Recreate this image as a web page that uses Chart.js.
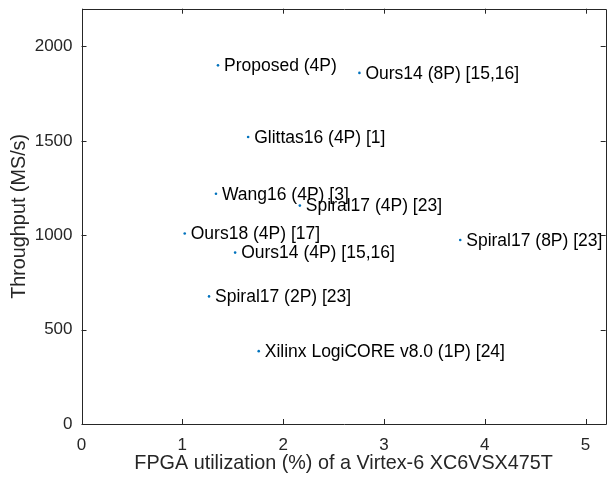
<!DOCTYPE html>
<html>
<head>
<meta charset="utf-8">
<script src="https://cdn.jsdelivr.net/npm/chart.js@4/dist/chart.umd.min.js"></script>
<style>
html,body{margin:0;padding:0;background:#fff;}
#wrap{width:607px;height:482px;position:relative;}
</style>
</head>
<body>
<div id="wrap"><canvas id="c" width="607" height="482"></canvas></div>
<script>
const designs = ["Proposed (4P)","Ours14 (8P) [15,16]","Glittas16 (4P) [1]","Wang16 (4P) [3]","Spiral17 (4P) [23]","Ours18 (4P) [17]","Ours14 (4P) [15,16]","Spiral17 (2P) [23]","Xilinx LogiCORE v8.0 (1P) [24]","Spiral17 (8P) [23]"];
const fpgaUtil = [1.354, 2.757, 1.653, 1.334, 2.166, 1.024, 1.524, 1.265, 1.758, 3.757];
const throughput = [1900, 1860, 1520, 1220, 1157, 1009, 908, 676, 386, 975];
const xTicks = [0,1,2,3,4,5];
const yTicks = [0,500,1000,1500,2000];
const xTitle = "FPGA utilization (%) of a Virtex-6 XC6VSX475T";
const yTitle = "Throughput (MS/s)";

const FONT = "'Liberation Sans', Arial, Helvetica, sans-serif";
const AX = '#262626';

const labelPlugin = {
  id:'pointLabels',
  afterDatasetsDraw(chart){
    const ctx = chart.ctx;
    const meta = chart.getDatasetMeta(0);
    ctx.save();
    ctx.font = "17.5px " + FONT;
    ctx.fillStyle = '#000';
    ctx.textAlign = 'left';
    ctx.textBaseline = 'middle';
    meta.data.forEach((el,i)=>{
      ctx.fillText(designs[i], el.x + 6, el.y + 1);
    });
    ctx.restore();
  }
};

const boxPlugin = {
  id:'box',
  afterDraw(chart){
    const ctx = chart.ctx;
    const a = chart.chartArea;
    const xs = chart.scales.x, ys = chart.scales.y;
    ctx.save();
    ctx.strokeStyle = AX;
    ctx.lineWidth = 1;
    ctx.beginPath();
    ctx.rect(Math.round(a.left)+0.5, Math.round(a.top)+0.5, Math.round(a.right-a.left), Math.round(a.bottom-a.top));
    ctx.stroke();
    const L = 5;
    ctx.beginPath();
    xTicks.forEach(v=>{
      const px = Math.round(xs.getPixelForValue(v))+0.5;
      ctx.moveTo(px, a.bottom); ctx.lineTo(px, a.bottom-L);
      ctx.moveTo(px, a.top); ctx.lineTo(px, a.top+L);
    });
    yTicks.forEach(v=>{
      const py = Math.round(ys.getPixelForValue(v))+0.5;
      ctx.moveTo(a.left, py); ctx.lineTo(a.left+L, py);
      ctx.moveTo(a.right, py); ctx.lineTo(a.right-L, py);
    });
    ctx.stroke();
    ctx.restore();
  }
};

new Chart(document.getElementById('c'), {
  type:'scatter',
  data:{
    datasets:[{
      data: fpgaUtil.map((x,i)=>({x:x, y:throughput[i]})),
      backgroundColor:'#0072BD',
      borderColor:'#0072BD',
      pointRadius:1.3,
      pointBorderWidth:0,
      pointHoverRadius:1.3
    }]
  },
  options:{
    responsive:false,
    animation:false,
    events:[],
    layout:{padding:{left:0, right:-2, top:8.7, bottom:0}},
    plugins:{legend:{display:false}, tooltip:{enabled:false}},
    scales:{
      x:{
        type:'linear', min:0, max:5.2,
        afterBuildTicks(s){ s.ticks = xTicks.map(v=>({value:v})); },
        afterFit(s){ s.height = 58; s.paddingLeft = 0; s.paddingRight = 0; },
        grid:{display:false, drawTicks:false},
        border:{display:false},
        ticks:{color:AX, font:{family:FONT, size:17}, padding:11, maxRotation:0, autoSkip:false,
               callback:(v)=>String(v)},
        title:{display:true, text:xTitle, color:AX, font:{family:FONT, size:19.8}, padding:{top:2,bottom:7}}
      },
      y:{
        type:'linear', min:0, max:2200,
        afterBuildTicks(s){ s.ticks = yTicks.map(v=>({value:v})); },
        afterFit(s){ s.width = 81.5; s.paddingTop = 0; s.paddingBottom = 0; },
        grid:{display:false, drawTicks:false},
        border:{display:false},
        ticks:{color:AX, font:{family:FONT, size:17}, padding:9, autoSkip:false,
               callback:(v)=>String(v)},
        title:{display:true, text:yTitle, color:AX, font:{family:FONT, size:19.8}, padding:{top:8,bottom:4}}
      }
    }
  },
  plugins:[labelPlugin, boxPlugin]
});
</script>
</body>
</html>
